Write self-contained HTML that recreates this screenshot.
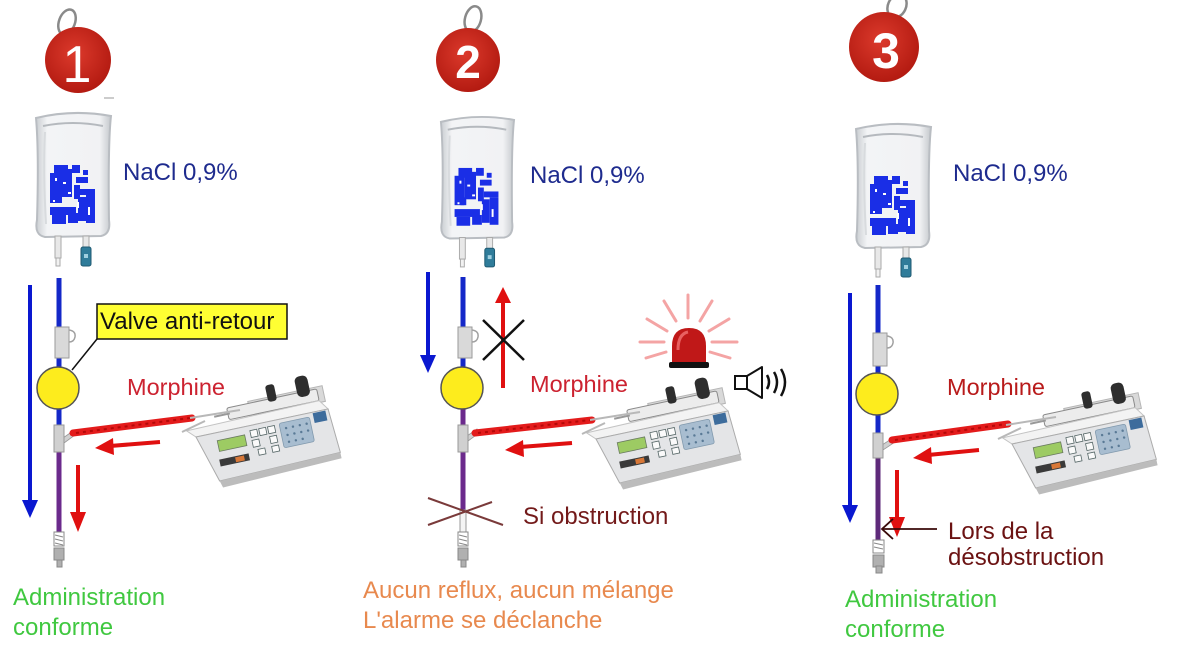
<!DOCTYPE html>
<html>
<head>
<meta charset="utf-8">
<style>
html,body{margin:0;padding:0;background:#fff;}
svg{display:block;}
text{font-family:"Liberation Sans",Arial,sans-serif;}
</style>
</head>
<body>
<svg width="1200" height="653" viewBox="0 0 1200 653" xmlns="http://www.w3.org/2000/svg">
<defs>
  <radialGradient id="tag" cx="0.45" cy="0.4" r="0.65">
    <stop offset="0" stop-color="#dc3a2c"/>
    <stop offset="1" stop-color="#b0180f"/>
  </radialGradient>
  <linearGradient id="bagg" x1="0" y1="0" x2="1" y2="0">
    <stop offset="0" stop-color="#c9cdd1"/>
    <stop offset="0.15" stop-color="#f3f4f6"/>
    <stop offset="0.85" stop-color="#f1f2f4"/>
    <stop offset="1" stop-color="#c4c8cc"/>
  </linearGradient>
  <g id="bag">
    <path d="M3,6 Q40,-3 78,4 Q75,30 76,108 Q78,122 68,124 L12,125 Q1,123 4,108 Q6,40 3,6 Z" fill="url(#bagg)" stroke="#b9bdc2" stroke-width="2"/>
    <path d="M10,14 Q40,8 70,14" fill="none" stroke="#b5b9be" stroke-width="2"/>
    <path d="M12,20 Q10,60 13,112" fill="none" stroke="#d8dbde" stroke-width="2"/>
    <g fill="#1a2ee6">
      <rect x="17" y="61" width="10" height="30"/>
      <rect x="21" y="53" width="14" height="10"/>
      <rect x="27" y="57" width="12" height="28"/>
      <rect x="39" y="53" width="8" height="8"/>
      <rect x="43" y="65" width="12" height="6"/>
      <rect x="41" y="73" width="6" height="14"/>
      <rect x="47" y="77" width="15" height="6"/>
      <rect x="45" y="85" width="8" height="24"/>
      <rect x="53" y="83" width="9" height="28"/>
      <rect x="17" y="95" width="26" height="8"/>
      <rect x="19" y="103" width="14" height="9"/>
      <rect x="35" y="101" width="10" height="10"/>
      <rect x="23" y="83" width="6" height="8"/>
      <rect x="50" y="58" width="5" height="5"/>
    </g>
    <g fill="#fff">
      <rect x="22" y="66" width="2" height="3"/>
      <rect x="30" y="70" width="3" height="2"/>
      <rect x="44" y="90" width="2" height="6"/>
      <rect x="20" y="88" width="2" height="2"/>
      <rect x="35" y="80" width="3" height="2"/>
      <rect x="55" y="95" width="2" height="8"/>
    </g>
    <rect x="22" y="124" width="6" height="22" fill="#e8e8e8" stroke="#aaa" stroke-width="1"/>
    <rect x="23" y="146" width="4" height="8" fill="#f2f2f2" stroke="#aaa" stroke-width="1"/>
    <rect x="50" y="124" width="6" height="12" fill="#e8e8e8" stroke="#aaa" stroke-width="1"/>
    <rect x="48" y="135" width="10" height="19" rx="2" fill="#2f7c9a" stroke="#1f5a72" stroke-width="1"/>
    <rect x="51" y="142" width="4" height="4" fill="#9fd0e0"/>
  </g>
  <g id="pump">
    <g transform="translate(196,437) rotate(-12)">
      <rect x="58" y="-24" width="76" height="16" fill="#d9d9d9" stroke="#b5b5b5"/>
      <rect x="36" y="-22" width="92" height="12" rx="2" fill="#ececec" stroke="#8a8a8a"/>
      <line x1="22" y1="-16" x2="38" y2="-16" stroke="#999" stroke-width="2"/>
      <rect x="78" y="-36" width="9" height="17" rx="3" fill="#2e2e2e"/>
      <rect x="108" y="-38" width="13" height="21" rx="5" fill="#2e2e2e"/>
      <polygon points="-8,-8 128,-10 135,0 0,0" fill="#f3f3f3" stroke="#c4c4c4"/>
      <polygon points="0,0 135,0 138,45 14,48" fill="#e4e5e7" stroke="#ababab"/>
      <polygon points="14,48 138,45 138,51 16,55" fill="#bcbcbc"/>
      <rect x="20" y="8" width="28" height="11" fill="#9dcb63" stroke="#6a7a60" stroke-width="0.8"/>
      <g fill="#fafafa" stroke="#566" stroke-width="0.8">
        <rect x="54" y="5" width="7" height="7"/><rect x="63" y="5" width="7" height="7"/><rect x="72" y="5" width="7" height="7"/>
        <rect x="54" y="15" width="7" height="7"/><rect x="72" y="15" width="7" height="7"/>
        <rect x="58" y="25" width="7" height="6"/><rect x="72" y="25" width="7" height="6"/>
      </g>
      <rect x="84" y="4" width="31" height="25" rx="2" fill="#a8bdd0" stroke="#8199ad" stroke-width="0.8"/>
      <g fill="#5a7a96">
        <circle cx="90" cy="10" r="1.2"/><circle cx="97" cy="10" r="1.2"/><circle cx="104" cy="10" r="1.2"/><circle cx="111" cy="10" r="1.2"/>
        <circle cx="90" cy="17" r="1.2"/><circle cx="97" cy="17" r="1.2"/><circle cx="104" cy="17" r="1.2"/><circle cx="111" cy="17" r="1.2"/>
        <circle cx="90" cy="24" r="1.2"/><circle cx="97" cy="24" r="1.2"/><circle cx="104" cy="24" r="1.2"/>
      </g>
      <rect x="119" y="1" width="13" height="10" fill="#3d6c9c"/>
      <rect x="18" y="27" width="30" height="7" fill="#3a3a3a"/>
      <rect x="34" y="28" width="9" height="5" fill="#d87838"/>
    </g>
    <line x1="190" y1="418" x2="240" y2="410" stroke="#b8b8b8" stroke-width="2"/>
    <line x1="205" y1="421" x2="182" y2="432" stroke="#b8b8b8" stroke-width="2"/>
  </g>
</defs>

<!-- ================= PANEL 1 ================= -->
<ellipse cx="67" cy="22" rx="8" ry="13" transform="rotate(20 67 22)" fill="none" stroke="#8a8a8a" stroke-width="2.5"/>
<circle cx="78" cy="60" r="33" fill="url(#tag)"/>
<text x="77" y="82" font-size="52" fill="#fff" text-anchor="middle">1</text>
<line x1="104" y1="98" x2="114" y2="98" stroke="#bbb" stroke-width="1.5"/>
<use href="#bag" transform="translate(33,112)"/>
<text x="123" y="180" font-size="24" fill="#1e2b8e">NaCl 0,9%</text>

<!-- blue arrow -->
<line x1="30" y1="285" x2="30" y2="502" stroke="#0a18d0" stroke-width="4"/>
<polygon points="22,500 38,500 30,518" fill="#0a18d0"/>
<!-- tube -->
<line x1="59" y1="278" x2="59" y2="428" stroke="#1428c8" stroke-width="5"/>
<rect x="55" y="327" width="14" height="31" fill="#d9d9d9" stroke="#9a9a9a"/>
<path d="M69,330 q7,1 6,7 q-1,5 -6,5" fill="none" stroke="#a0a0a0" stroke-width="1.5"/>
<circle cx="58" cy="388" r="21" fill="#fdec1d" stroke="#555" stroke-width="1.5"/>
<line x1="59" y1="452" x2="59" y2="532" stroke="#6b2a8c" stroke-width="5"/>
<polygon points="63,438 73,431 75,435 64,443" fill="#d0d0d0" stroke="#999" stroke-width="0.8"/>
<rect x="54" y="425" width="10" height="27" fill="#d0d0d0" stroke="#999"/>
<rect x="54" y="532" width="10" height="14" fill="#fff" stroke="#888"/>
<path d="M55,535 l8,2 M55,539 l8,2 M55,543 l8,2" stroke="#888" stroke-width="1"/>
<rect x="54" y="548" width="10" height="12" fill="#b0b0b0" stroke="#888"/>
<rect x="57" y="560" width="5" height="7" fill="#b0b0b0" stroke="#888"/>
<!-- valve label -->
<line x1="97" y1="339" x2="72" y2="370" stroke="#111" stroke-width="1.5"/>
<rect x="97" y="304" width="190" height="35" fill="#ffff33" stroke="#111" stroke-width="1.5"/>
<text x="100" y="329" font-size="24" fill="#111">Valve anti-retour</text>
<text x="127" y="395" font-size="23.5" fill="#cc2230">Morphine</text>
<!-- red tube -->
<line x1="73" y1="433" x2="192" y2="418" stroke="#e31b1b" stroke-width="7" stroke-linecap="round"/>
<line x1="76" y1="433" x2="190" y2="418" stroke="#b50808" stroke-width="2" stroke-dasharray="3 4"/>
<use href="#pump"/>
<!-- red arrows -->
<line x1="160" y1="442" x2="110" y2="446" stroke="#e01010" stroke-width="4"/>
<polygon points="95,448 113,438 114,455" fill="#e01010"/>
<line x1="78" y1="465" x2="78" y2="515" stroke="#e01010" stroke-width="4"/>
<polygon points="70,512 86,512 78,532" fill="#e01010"/>
<text x="13" y="605" font-size="24" fill="#40c840">Administration</text>
<text x="13" y="635" font-size="24" fill="#40c840">conforme</text>

<!-- ================= PANEL 2 ================= -->
<ellipse cx="473" cy="19" rx="8" ry="13" transform="rotate(15 473 19)" fill="none" stroke="#8a8a8a" stroke-width="2.5"/>
<circle cx="468" cy="60" r="32" fill="url(#tag)"/>
<text x="468" y="78" font-size="46" font-weight="bold" fill="#fff" text-anchor="middle">2</text>
<use href="#bag" transform="translate(438,116) scale(0.975,0.98)"/>
<text x="530" y="183" font-size="24" fill="#1e2b8e">NaCl 0,9%</text>

<line x1="428" y1="272" x2="428" y2="357" stroke="#0a18d0" stroke-width="4"/>
<polygon points="420,355 436,355 428,373" fill="#0a18d0"/>
<line x1="463" y1="277" x2="463" y2="368" stroke="#1428c8" stroke-width="5"/>
<rect x="458" y="327" width="14" height="31" fill="#d9d9d9" stroke="#9a9a9a"/>
<path d="M472,330 q7,1 6,7 q-1,5 -6,5" fill="none" stroke="#a0a0a0" stroke-width="1.5"/>
<line x1="463" y1="405" x2="463" y2="510" stroke="#6b2a8c" stroke-width="5"/>
<circle cx="462" cy="388" r="21" fill="#fdec1d" stroke="#555" stroke-width="1.5"/>
<polygon points="467,436 477,429 479,433 468,441" fill="#d0d0d0" stroke="#999" stroke-width="0.8"/>
<rect x="458" y="425" width="10" height="27" fill="#d0d0d0" stroke="#999"/>
<rect x="460" y="510" width="6" height="22" fill="#f4f4f4" stroke="#999"/>
<rect x="458" y="532" width="10" height="14" fill="#fff" stroke="#888"/>
<path d="M459,535 l8,2 M459,539 l8,2 M459,543 l8,2" stroke="#888" stroke-width="1"/>
<rect x="458" y="548" width="10" height="12" fill="#b0b0b0" stroke="#888"/>
<rect x="461" y="560" width="5" height="7" fill="#b0b0b0" stroke="#888"/>
<!-- up arrow + X -->
<line x1="503" y1="300" x2="503" y2="388" stroke="#e01010" stroke-width="4"/>
<polygon points="495,303 511,303 503,287" fill="#e01010"/>
<line x1="483" y1="320" x2="524" y2="360" stroke="#111" stroke-width="2.5"/>
<line x1="483" y1="360" x2="524" y2="320" stroke="#111" stroke-width="2.5"/>
<text x="530" y="392" font-size="23.5" fill="#cc2230">Morphine</text>
<!-- alarm -->
<g stroke="#f4a4a4" stroke-width="3" stroke-linecap="round">
  <line x1="688" y1="318" x2="688" y2="295"/>
  <line x1="676" y1="321" x2="664" y2="301"/>
  <line x1="700" y1="321" x2="712" y2="301"/>
  <line x1="667" y1="331" x2="647" y2="319"/>
  <line x1="709" y1="331" x2="729" y2="319"/>
  <line x1="664" y1="342" x2="640" y2="342"/>
  <line x1="712" y1="342" x2="737" y2="342"/>
  <line x1="666" y1="352" x2="646" y2="358"/>
  <line x1="710" y1="352" x2="730" y2="358"/>
</g>
<path d="M672,364 L672,346 Q672,328 689,328 Q706,328 706,346 L706,364 Z" fill="#c01818"/>
<path d="M678,350 Q678,334 688,332" fill="none" stroke="#e86060" stroke-width="3"/>
<rect x="669" y="362" width="40" height="6" rx="2" fill="#111"/>
<!-- speaker -->
<rect x="735" y="376" width="12" height="13" fill="#fff" stroke="#111" stroke-width="2"/>
<polygon points="747,376 762,367 762,398 747,389" fill="#fff" stroke="#111" stroke-width="2" stroke-linejoin="round"/>
<path d="M767,375 q4,7 0,14" fill="none" stroke="#111" stroke-width="2.5"/>
<path d="M774,372 q6,10 0,21" fill="none" stroke="#111" stroke-width="2.5"/>
<path d="M781,369 q8,13 0,27" fill="none" stroke="#111" stroke-width="2.5"/>
<!-- red tube & pump -->
<line x1="475" y1="433" x2="592" y2="420" stroke="#e31b1b" stroke-width="7" stroke-linecap="round"/>
<line x1="478" y1="433" x2="590" y2="420" stroke="#b50808" stroke-width="2" stroke-dasharray="3 4"/>
<use href="#pump" transform="translate(400,2)"/>
<line x1="572" y1="443" x2="520" y2="447" stroke="#e01010" stroke-width="4"/>
<polygon points="505,450 523,440 524,457" fill="#e01010"/>
<!-- obstruction -->
<line x1="428" y1="498" x2="503" y2="525" stroke="#7a3a3a" stroke-width="2"/>
<line x1="428" y1="525" x2="492" y2="502" stroke="#7a3a3a" stroke-width="2"/>
<text x="523" y="524" font-size="24" fill="#731a1a">Si obstruction</text>
<text x="363" y="598" font-size="24" fill="#e8894e">Aucun reflux, aucun mélange</text>
<text x="363" y="628" font-size="24" fill="#e8894e">L'alarme se déclanche</text>

<!-- ================= PANEL 3 ================= -->
<ellipse cx="897" cy="6" rx="9" ry="12" transform="rotate(25 897 6)" fill="none" stroke="#8a8a8a" stroke-width="2.5"/>
<circle cx="884" cy="47" r="35" fill="url(#tag)"/>
<text x="886" y="68" font-size="50" font-weight="bold" fill="#fff" text-anchor="middle">3</text>
<use href="#bag" transform="translate(853,123)"/>
<text x="953" y="181" font-size="24" fill="#1e2b8e">NaCl 0,9%</text>

<line x1="850" y1="293" x2="850" y2="507" stroke="#0a18d0" stroke-width="4"/>
<polygon points="842,505 858,505 850,523" fill="#0a18d0"/>
<line x1="878" y1="285" x2="878" y2="436" stroke="#1428c8" stroke-width="5"/>
<rect x="873" y="333" width="14" height="33" fill="#d9d9d9" stroke="#9a9a9a"/>
<path d="M887,336 q7,1 6,7 q-1,5 -6,5" fill="none" stroke="#a0a0a0" stroke-width="1.5"/>
<circle cx="877" cy="394" r="21" fill="#fdec1d" stroke="#555" stroke-width="1.5"/>
<line x1="878" y1="458" x2="878" y2="540" stroke="#5e2a7a" stroke-width="5"/>
<polygon points="882,445 893,438 895,442 883,450" fill="#d0d0d0" stroke="#999" stroke-width="0.8"/>
<rect x="873" y="433" width="10" height="25" fill="#d0d0d0" stroke="#999"/>
<rect x="873" y="540" width="11" height="13" fill="#fff" stroke="#888"/>
<path d="M874,543 l9,2 M874,547 l9,2" stroke="#888" stroke-width="1"/>
<rect x="873" y="555" width="11" height="12" fill="#b0b0b0" stroke="#888"/>
<rect x="876" y="566" width="6" height="7" fill="#b0b0b0" stroke="#888"/>
<text x="947" y="395" font-size="23.5" fill="#b81a1a">Morphine</text>
<line x1="892" y1="440" x2="1008" y2="424" stroke="#e31b1b" stroke-width="7" stroke-linecap="round"/>
<line x1="895" y1="440" x2="1006" y2="424" stroke="#b50808" stroke-width="2" stroke-dasharray="3 4"/>
<use href="#pump" transform="translate(816,7)"/>
<line x1="979" y1="450" x2="928" y2="455" stroke="#e01010" stroke-width="4"/>
<polygon points="913,458 931,447 932,464" fill="#e01010"/>
<line x1="897" y1="470" x2="897" y2="520" stroke="#e01010" stroke-width="4"/>
<polygon points="889,517 905,517 897,537" fill="#e01010"/>
<!-- Lors arrow -->
<line x1="937" y1="529" x2="882" y2="529" stroke="#3a0a0a" stroke-width="1.8"/>
<polyline points="893,519 882,529 893,539" fill="none" stroke="#3a0a0a" stroke-width="1.8"/>
<text x="948" y="539" font-size="24" fill="#6b1212">Lors de la</text>
<text x="948" y="565" font-size="24" fill="#6b1212">désobstruction</text>
<text x="845" y="607" font-size="24" fill="#40c840">Administration</text>
<text x="845" y="637" font-size="24" fill="#40c840">conforme</text>
</svg>
</body>
</html>
